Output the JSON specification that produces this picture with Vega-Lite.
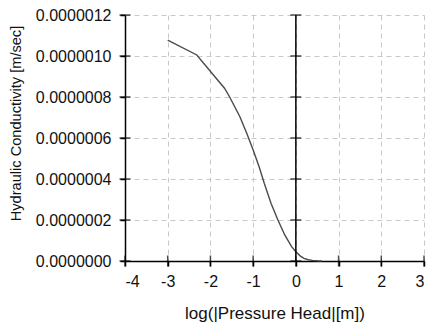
{
  "$schema": "https://vega.github.io/schema/vega-lite/v6.json",
  "width": 299,
  "height": 246,
  "autosize": {"type": "none"},
  "padding": {"left": 125, "top": 15, "right": 3, "bottom": 64},
  "background": "white",
  "config": {
    "view": {"stroke": null},
    "font": "Liberation Sans",
    "axis": {
      "grid": true,
      "gridDash": [5, 4],
      "gridColor": "#c8c8c8",
      "gridWidth": 1,
      "domainColor": "black",
      "domainWidth": 1.5,
      "tickColor": "black",
      "tickWidth": 1.5,
      "tickSize": 5,
      "labelFontSize": 16,
      "labelColor": "#111111",
      "titleFontWeight": "normal",
      "titleColor": "#111111"
    }
  },
  "datasets": {
    "curve": [
      {"h": -3.0, "k": 1.078e-6},
      {"h": -2.32, "k": 1.005e-6},
      {"h": -1.67, "k": 0.843e-6},
      {"h": -1.55, "k": 0.80e-6},
      {"h": -1.31, "k": 0.704e-6},
      {"h": -1.15, "k": 0.623e-6},
      {"h": -1.0, "k": 0.541e-6},
      {"h": -0.86, "k": 0.46e-6},
      {"h": -0.74, "k": 0.379e-6},
      {"h": -0.58, "k": 0.281e-6},
      {"h": -0.42, "k": 0.20e-6},
      {"h": -0.26, "k": 0.127e-6},
      {"h": -0.1, "k": 0.07e-6},
      {"h": 0.0, "k": 0.045e-6},
      {"h": 0.1, "k": 0.025e-6},
      {"h": 0.19, "k": 0.013e-6},
      {"h": 0.29, "k": 0.006e-6},
      {"h": 0.39, "k": 0.003e-6},
      {"h": 0.5, "k": 0.001e-6},
      {"h": 0.61, "k": 0.0}
    ],
    "yticks": [
      {"v": 0}, {"v": 2e-7}, {"v": 4e-7}, {"v": 6e-7}, {"v": 8e-7}, {"v": 1e-6}, {"v": 1.2e-6}
    ],
    "xticks": [
      {"u": -4}, {"u": -3}, {"u": -2}, {"u": -1}, {"u": 0}, {"u": 1}, {"u": 2}, {"u": 3}
    ]
  },
  "layer": [
    {
      "data": {"name": "curve"},
      "mark": {"type": "line", "color": "#4a4a4a", "strokeWidth": 1.4},
      "encoding": {
        "x": {
          "field": "h",
          "type": "quantitative",
          "scale": {"domain": [-4, 3], "nice": false, "zero": false},
          "axis": {
            "values": [-4, -3, -2, -1, 0, 1, 2, 3],
            "labelExpr": "'' + datum.value",
            "labelPadding": 7,
            "titlePadding": 16,
            "titleFontSize": 17,
            "title": "log(|Pressure Head|[m])"
          }
        },
        "y": {
          "field": "k",
          "type": "quantitative",
          "scale": {"domain": [0, 1.2e-6], "nice": false},
          "axis": {
            "values": [0, 2e-7, 4e-7, 6e-7, 8e-7, 1e-6, 1.2e-6],
            "format": ".7f",
            "labelPadding": 9,
            "titlePadding": 12,
            "titleFontSize": 14.6,
            "titleY": 108,
            "title": "Hydraulic Conductivity [m/sec]"
          }
        }
      }
    },
    {
      "data": {"values": [{}]},
      "mark": {"type": "rule", "color": "black", "strokeWidth": 1.5},
      "encoding": {"x": {"datum": 0, "type": "quantitative"}}
    },
    {
      "data": {"name": "yticks"},
      "mark": {"type": "tick", "orient": "horizontal", "size": 11, "thickness": 1.5, "color": "black"},
      "encoding": {
        "x": {"datum": 0, "type": "quantitative"},
        "y": {"field": "v", "type": "quantitative"}
      }
    },
    {
      "data": {"name": "yticks"},
      "mark": {"type": "tick", "orient": "horizontal", "size": 11, "thickness": 1.5, "color": "black"},
      "encoding": {
        "x": {"datum": -4, "type": "quantitative"},
        "y": {"field": "v", "type": "quantitative"}
      }
    },
    {
      "data": {"name": "xticks"},
      "mark": {"type": "tick", "orient": "vertical", "size": 11, "thickness": 1.5, "color": "black"},
      "encoding": {
        "x": {"field": "u", "type": "quantitative"},
        "y": {"datum": 0, "type": "quantitative"}
      }
    }
  ]
}
